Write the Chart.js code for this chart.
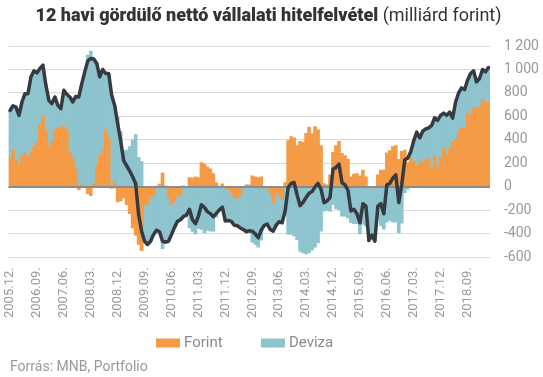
<!DOCTYPE html>
<html><head><meta charset="utf-8">
<script src="https://cdn.jsdelivr.net/npm/chart.js@4.4.1/dist/chart.umd.min.js"></script>
<style>
html,body{margin:0;padding:0;background:#fff;}
#wrap{position:relative;width:543px;height:377px;overflow:hidden;}
#title{position:absolute;left:0;top:4px;width:537px;text-align:center;font-family:Roboto,sans-serif;font-size:18px;color:#333;white-space:nowrap;}
#title b{font-weight:900;}
#src{position:absolute;left:10px;top:358px;font-family:Roboto,sans-serif;font-size:14px;color:#999;}
canvas{position:absolute;left:0;top:0;}
</style></head><body>
<div id="wrap"><canvas id="c" width="543" height="377"></canvas>
<div id="title"><b>12 havi gördülő nettó vállalati hitelfelvétel</b> (milliárd forint)</div>
<div id="src">Forrás: MNB, Portfolio</div></div>
<script>
// Categories: monthly, 2005.12 – 2019.04
const startYear = 2005, startMonth = 12, monthCount = 161;
const categories = [];
for (let i = 0; i < monthCount; i++) {
  const m0 = startMonth - 1 + i;
  const y = startYear + Math.floor(m0 / 12);
  const m = (m0 % 12) + 1;
  categories.push(y + '.' + (m < 10 ? '0' + m : m) + '.');
}
const labelEvery = 9;
const yTicks = [-600, -400, -200, 0, 200, 400, 600, 800, 1000, 1200];

const forint = [
246,311,231,189,266,291,246,300,343,377,531,600,486,343,386,486,500,514,514,486,
291,240,154,-23,17,3,-57,-74,23,177,266,320,486,417,-14,40,-129,-120,-94,-151,
-229,-349,-411,-491,-543,-149,-149,-86,-77,6,23,120,9,-91,-149,-126,-69,-77,9,-6,
80,74,86,80,206,194,171,154,114,34,6,26,-11,-23,-49,-91,-97,-69,0,17,
17,94,86,80,86,-11,-6,-57,-134,-57,-77,-106,37,394,429,417,351,389,380,457,
509,451,514,486,351,29,17,103,294,351,389,286,266,237,86,109,114,94,143,86,
-6,-11,-6,103,143,143,291,309,343,351,234,303,314,209,251,217,180,217,200,237,
246,160,257,171,246,326,266,331,380,400,474,503,503,623,617,674,671,680,743,720,
723];

const deviza = [
405,380,449,420,457,503,548,637,646,594,478,437,380,394,323,280,194,152,309,303,
475,483,617,766,863,977,1123,1157,1066,874,671,680,480,549,780,654,594,471,309,313,
343,400,446,251,217,-314,-342,-377,-329,-375,-406,-526,-480,-372,-257,-219,-225,-203,-261,-234,
-349,-380,-400,-354,-363,-391,-371,-377,-377,-259,-202,-199,-280,-263,-245,-236,-234,-281,-364,-397,
-390,-470,-490,-514,-455,-318,-311,-306,-243,-269,-220,-200,-243,-406,-406,-420,-449,-549,-563,-571,
-560,-540,-514,-477,-377,-206,-200,-206,-150,-185,-195,-250,-250,-265,-306,-314,-314,-400,-320,-334,
-450,-400,-457,-280,-330,-360,-300,-285,-300,-300,-390,-310,-50,-20,49,177,286,200,274,257,
257,363,332,395,363,303,343,306,206,323,326,340,326,286,349,315,223,243,257,260,
294];

const total = [
651,691,680,609,723,794,794,937,989,971,1009,1037,866,737,709,766,694,666,823,789,
766,723,771,766,880,980,1074,1094,1089,1051,937,1000,966,966,780,694,537,394,223,180,
137,86,29,-234,-377,-463,-491,-463,-406,-369,-383,-463,-471,-463,-406,-345,-294,-280,-252,-240,
-191,-280,-314,-250,-152,-174,-211,-228,-254,-225,-196,-173,-291,-286,-294,-327,-331,-350,-364,-380,
-374,-377,-400,-434,-369,-329,-317,-363,-377,-326,-297,-306,-206,-6,29,37,-69,-160,-131,-91,
-54,-40,0,29,-20,-134,-120,-91,151,166,194,37,17,-29,-206,-191,-229,-306,-143,-163,
-457,-411,-463,-163,-143,-229,17,29,74,103,-134,23,229,246,300,394,466,417,474,494,
503,523,589,566,609,629,609,637,586,723,800,843,829,909,966,989,894,923,1000,980,
1017];

const COLORS = { forint: '#F59A45', deviza: '#8EC4CE', total: '#363A41' };

const zeroLine = {
  id: 'zeroLine',
  beforeDatasetDraw(chart, args) {
    if (args.meta.type !== 'line') return;
    const {ctx, chartArea} = chart;
    const y = Math.round(chart.scales.y.getPixelForValue(0));
    ctx.save();
    ctx.strokeStyle = '#8c8c8c';
    ctx.lineWidth = 2;
    ctx.beginPath();
    ctx.moveTo(chartArea.left, y);
    ctx.lineTo(chartArea.right, y);
    ctx.stroke();
    ctx.restore();
  }
};

const customLegend = {
  id: 'customLegend',
  afterDraw(chart) {
    const ctx = chart.ctx;
    const items = [
      {x: 156, ds: chart.data.datasets[0]},
      {x: 261, ds: chart.data.datasets[1]}
    ];
    const yc = 343;
    ctx.save();
    ctx.font = '15px Roboto, sans-serif';
    ctx.textBaseline = 'middle';
    ctx.textAlign = 'left';
    items.forEach(it => {
      ctx.fillStyle = it.ds.backgroundColor;
      ctx.fillRect(it.x, yc - 4.5, 24, 9);
      ctx.fillStyle = '#8a8a8a';
      ctx.fillText(it.ds.label, it.x + 28, yc + 0.5);
    });
    ctx.restore();
  }
};

new Chart(document.getElementById('c'), {
  type: 'bar',
  data: {
    labels: categories,
    datasets: [
      {label: 'Forint', data: forint, backgroundColor: COLORS.forint, stack: 's', order: 1,
       barPercentage: 1, categoryPercentage: 1, borderWidth: 0},
      {label: 'Deviza', data: deviza, backgroundColor: COLORS.deviza, stack: 's', order: 1,
       barPercentage: 1, categoryPercentage: 1, borderWidth: 0},
      {label: 'Összesen', type: 'line', data: total, borderColor: COLORS.total, backgroundColor: COLORS.total,
       borderWidth: 3.5, pointRadius: 0, tension: 0, stack: 'line', order: 0,
       borderJoinStyle: 'round', borderCapStyle: 'round'}
    ]
  },
  options: {
    responsive: false,
    animation: false,
    devicePixelRatio: 1,
    layout: {padding: {left: 6, right: 5, top: 46, bottom: 49}},
    plugins: {legend: {display: false}, tooltip: {enabled: false}, title: {display: false}},
    scales: {
      x: {
        stacked: true,
        grid: {display: false, drawTicks: false},
        border: {display: false},
        ticks: {
          autoSkip: false, maxRotation: 90, minRotation: 90, padding: 10,
          color: '#999', font: {family: 'Roboto', size: 13},
          callback: (v, i) => (i % labelEvery === 0 ? categories[i] : null)
        }
      },
      y: {
        position: 'right',
        stacked: true,
        min: -600, max: 1200,
        afterBuildTicks: (axis) => { axis.ticks = yTicks.map(v => ({value: v})); },
        afterFit: (axis) => { axis.width = 48; },
        grid: {color: (c) => (c.tick && c.tick.value === 0 ? 'rgba(0,0,0,0)' : '#d9d9d9'), lineWidth: 1, drawTicks: false},
        border: {display: false},
        ticks: {
          padding: 14, color: '#999', font: {family: 'Roboto', size: 14},
          callback: (v) => String(v).replace(/\B(?=(\d{3})+(?!\d))/g, ' ')
        }
      }
    }
  },
  plugins: [zeroLine, customLegend]
});
</script>
</body></html>
